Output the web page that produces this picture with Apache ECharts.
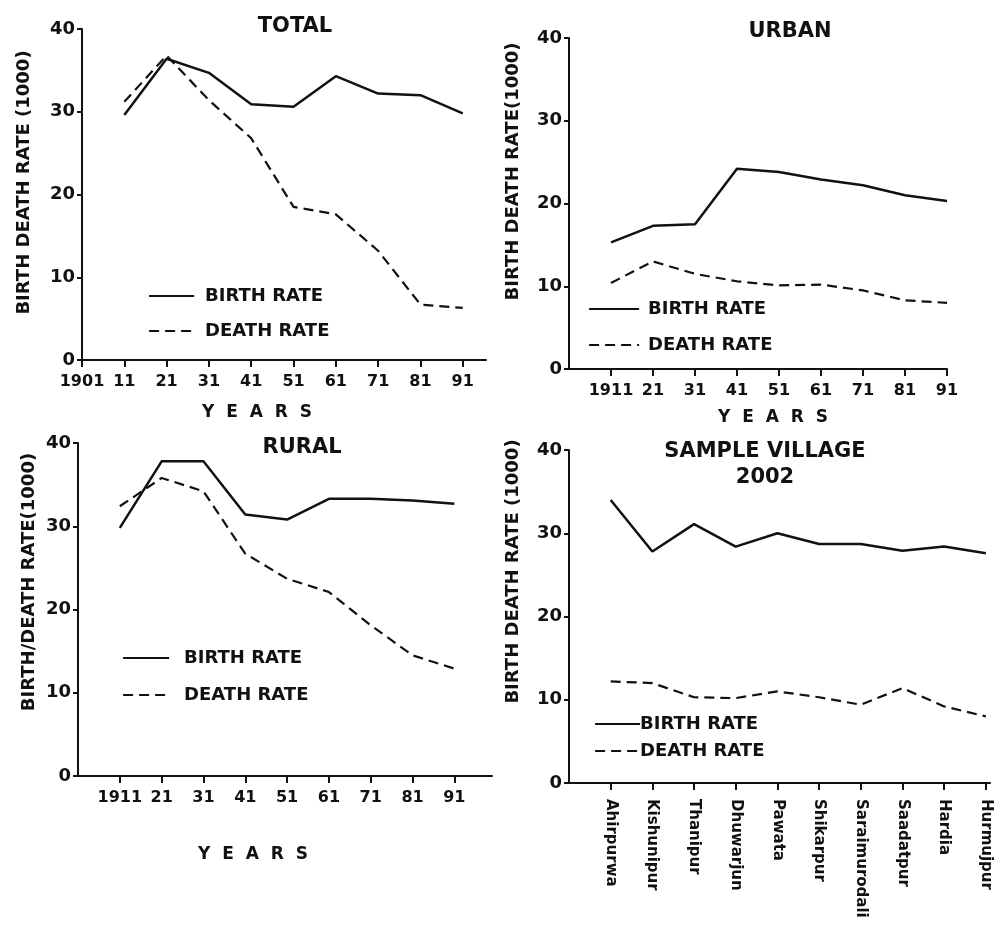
<!DOCTYPE html>
<html>
<head>
<meta charset="utf-8">
<script src="https://cdn.jsdelivr.net/npm/echarts@6/dist/echarts.min.js"></script>
<style>
html,body{margin:0;padding:0;background:#fff;}
#c{width:994px;height:932px;}
</style>
</head>
<body>
<div id="c"></div>
<script>
// ---------- DATA ----------
const totalYears = ['1901','11','21','31','41','51','61','71','81','91'];
const totalBirth = [null, 29.6, 36.4, 34.7, 30.9, 30.6, 34.3, 32.2, 32.0, 29.8];
const totalDeath = [null, 31.2, 36.8, 31.4, 26.8, 18.5, 17.6, 13.2, 6.7, 6.3];

const urbanYears = ['', '1911','21','31','41','51','61','71','81','91'];
const urbanBirth = [null, 15.3, 17.3, 17.5, 24.2, 23.8, 22.9, 22.2, 21.0, 20.3];
const urbanDeath = [null, 10.4, 13.0, 11.5, 10.6, 10.1, 10.2, 9.5, 8.3, 8.0];

const ruralYears = ['', '1911','21','31','41','51','61','71','81','91'];
const ruralBirth = [null, 29.8, 37.8, 37.8, 31.4, 30.8, 33.3, 33.3, 33.1, 32.7];
const ruralDeath = [null, 32.4, 35.8, 34.2, 26.7, 23.7, 22.1, 18.1, 14.5, 12.9];

const villages = ['', 'Ahirpurwa','Kishunipur','Thanipur','Dhuwarjun','Pawata','Shikarpur','Saraimurodali','Saadatpur','Hardia','Hurmujpur'];
const villageBirth = [null, 34.0, 27.8, 31.1, 28.4, 30.0, 28.7, 28.7, 27.9, 28.4, 27.6];
const villageDeath = [null, 12.2, 12.0, 10.3, 10.2, 11.0, 10.3, 9.4, 11.4, 9.2, 8.0];

const seriesNames = ['BIRTH RATE', 'DEATH RATE'];
const panelTitles = ['TOTAL', 'URBAN', 'RURAL', 'SAMPLE VILLAGE\n2002'];
const yNames = ['BIRTH DEATH RATE (1000)', 'BIRTH DEATH RATE(1000)', 'BIRTH/DEATH RATE(1000)', 'BIRTH DEATH RATE (1000)'];
const xName = 'Y  E  A  R  S';

// ---------- LAYOUT / STYLE ----------
const FONT = 'DejaVu Sans';
const INK = '#111';
const panels = [
  {cats: totalYears, birth: totalBirth, death: totalDeath, grid: {left: 82, top: 29, width: 404, height: 331}, max: 9.55, ticks: [0,1,2,3,4,5,6,7,8,9],
   yNameGap: 49, yNamePad: [0,0,0,24], xNameGap: 44, xNamePad: [0,54,0,0], showXName: true, rot: 0,
   legend: {left: 143, top: 282, gap: 17, iw: 45, pad: 6}, title: {x: 290, y: 9}},
  {cats: urbanYears, birth: urbanBirth, death: urbanDeath, grid: {left: 569, top: 38, width: 378, height: 331}, max: 9, ticks: [1,2,3,4,5,6,7,8,9],
   yNameGap: 47, yNamePad: [0,0,0,64], xNameGap: 40, xNamePad: [0,0,0,30], showXName: true, rot: 0,
   legend: {left: 583, top: 295, gap: 18, iw: 50, pad: 4}, title: {x: 785, y: 14}},
  {cats: ruralYears, birth: ruralBirth, death: ruralDeath, grid: {left: 78, top: 443, width: 414, height: 333}, max: 9.9, ticks: [1,2,3,4,5,6,7,8,9],
   yNameGap: 40, yNamePad: [0,0,0,55], xNameGap: 70, xNamePad: [0,64,0,0], showXName: true, rot: 0,
   legend: {left: 117, top: 644, gap: 19, iw: 46, pad: 10}, title: {x: 297, y: 430}},
  {cats: villages, birth: villageBirth, death: villageDeath, grid: {left: 569, top: 450, width: 421, height: 333}, max: 10.1, ticks: [1,2,3,4,5,6,7,8,9,10],
   yNameGap: 47, yNamePad: [0,0,0,90], xNameGap: 40, xNamePad: [0,0,0,0], showXName: false, rot: -90,
   legend: {left: 589, top: 710, gap: 9, iw: 45, pad: -5}, title: {x: 760, y: 434}}
];

const option = {
  backgroundColor: '#fff',
  animation: false,
  textStyle: {fontFamily: FONT, color: INK},
  title: [], grid: [], xAxis: [], yAxis: [], series: [], legend: []
};

panels.forEach((p, i) => {
  option.title.push({
    text: panelTitles[i], left: p.title.x, top: p.title.y, textAlign: 'center',
    textStyle: {fontFamily: FONT, fontSize: 21, fontWeight: 'bold', color: INK, lineHeight: 26, align: 'center'}
  });
  option.grid.push(Object.assign({containLabel: false}, p.grid));
  const labelStyle = p.rot === 0
    ? {fontSize: 16, fontWeight: 'bold', margin: 14, color: INK, fontFamily: FONT}
    : {fontSize: 15, fontWeight: 'bold', margin: 16, color: INK, fontFamily: FONT, rotate: -90};
  option.xAxis.push({
    type: 'value', gridIndex: i, min: 0, max: p.max,
    name: p.showXName ? xName : '', nameLocation: 'middle', nameGap: p.xNameGap,
    nameTextStyle: {fontSize: 17, fontWeight: 'bold', color: INK, fontFamily: FONT, padding: p.xNamePad},
    axisLine: {show: true, lineStyle: {color: INK, width: 2}},
    axisTick: {show: true, length: 7, customValues: p.ticks, lineStyle: {color: INK, width: 2}},
    axisLabel: Object.assign({customValues: p.ticks, formatter: v => p.cats[Math.round(v)] || ''}, labelStyle),
    splitLine: {show: false}
  });
  option.yAxis.push({
    type: 'value', gridIndex: i, min: 0, max: 40, interval: 10,
    name: yNames[i], nameLocation: 'middle', nameGap: p.yNameGap, nameRotate: 90,
    nameTextStyle: {fontSize: 18, fontWeight: 'bold', color: INK, fontFamily: FONT, padding: p.yNamePad},
    axisLine: {show: true, lineStyle: {color: INK, width: 2}},
    axisTick: {show: true, length: 5, lineStyle: {color: INK, width: 2}},
    axisLabel: {fontSize: 18, fontWeight: 'bold', margin: 7, color: INK, fontFamily: FONT},
    splitLine: {show: false}
  });
  const mk = arr => arr.map((v, k) => v == null ? null : [k, v]).filter(d => d);
  option.series.push({
    name: seriesNames[0], type: 'line', xAxisIndex: i, yAxisIndex: i,
    data: mk(p.birth), symbol: 'none', smooth: false,
    lineStyle: {color: INK, width: 2.5, type: 'solid'}, itemStyle: {color: INK}
  });
  option.series.push({
    name: seriesNames[1], type: 'line', xAxisIndex: i, yAxisIndex: i,
    data: mk(p.death), symbol: 'none', smooth: false,
    lineStyle: {color: INK, width: 2.2, type: [10, 6]}, itemStyle: {color: INK}
  });
  option.legend.push({
    data: seriesNames, orient: 'vertical', left: p.legend.left, top: p.legend.top,
    itemWidth: p.legend.iw, itemHeight: 18, itemGap: p.legend.gap, selectedMode: false,
    itemStyle: {opacity: 0},
    lineStyle: {width: 2.2},
    textStyle: {fontSize: 18, fontWeight: 'bold', color: INK, fontFamily: FONT, padding: [0, 0, 0, p.legend.pad]}
  });
});

const chart = echarts.init(document.getElementById('c'), null, {renderer: 'canvas'});
chart.setOption(option);
</script>
</body>
</html>
